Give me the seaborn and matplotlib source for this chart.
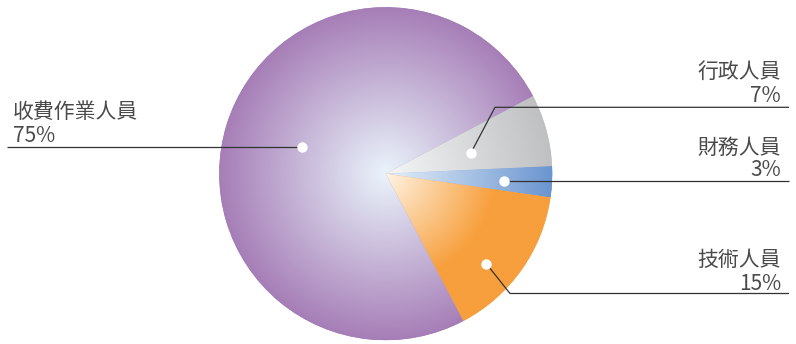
import numpy as np
import matplotlib
matplotlib.use("Agg")
import matplotlib.pyplot as plt
import matplotlib.colors as mcolors
import seaborn as sns

# Staff composition
categories = ["行政人員", "財務人員", "技術人員", "收費作業人員"]
shares = [7, 3, 15, 75]
pct_labels = ["7%", "3%", "15%", "75%"]

edge_colors = ["#bfc0c2", "#6a95cf", "#f79f3c", "#a67eb7"]
center_colors = ["#f4f6f8", "#e6f0fa", "#fff4e4", "#eaf4fb"]
# radius fraction at which each slice reaches its full colour
full_at = [1.0, 1.0, 0.66, 1.0]

sns.set_theme(style="white")
plt.rcParams["font.family"] = ["Noto Sans CJK TC", "DejaVu Sans"]

W, H = 796, 344
fig = plt.figure(figsize=(W / 100, H / 100), dpi=100)
ax = fig.add_axes([0, 0, 1, 1])


def px(x, y):
    """pixel position (origin top-left) -> data coordinates"""
    return x, H - y


cx, cy = px(385.7, 173.7)
R = 166.5

wedges, _ = ax.pie(shares, startangle=27.8, counterclock=False,
                   center=(cx, cy), radius=R, colors=edge_colors,
                   wedgeprops=dict(linewidth=0))

# radial gradient fill for each slice
n = 600
xs = np.linspace(cx - R, cx + R, n)
ys = np.linspace(cy - R, cy + R, n)
XX, YY = np.meshgrid(xs, ys)
rr = np.sqrt((XX - cx) ** 2 + (YY - cy) ** 2) / R
for w, c0, c1, fa in zip(wedges, center_colors, edge_colors, full_at):
    t = np.clip(rr / fa, 0, 1)[..., None]
    a = np.array(mcolors.to_rgb(c0))
    b = np.array(mcolors.to_rgb(c1))
    img = a * (1 - t) + b * t
    im = ax.imshow(img, extent=(cx - R, cx + R, cy - R, cy + R),
                   origin="lower", interpolation="bilinear", zorder=2)
    im.set_clip_path(w)

# marker dots inside slices (radial fraction, angle tweak in degrees)
dot_r = [0.525, 0.71, 0.81, 0.526]
dot_da = [-1.7, -0.9, -6.6, -0.8]
dots = []
for w, fr, da in zip(wedges, dot_r, dot_da):
    ang = np.deg2rad((w.theta1 + w.theta2) / 2 + da)
    dots.append((cx + fr * R * np.cos(ang), cy + fr * R * np.sin(ang)))

line_kw = dict(color="#333333", lw=0.9, zorder=3, solid_capstyle="butt")

# leader lines
gx, gy = dots[0]
ex, ey = px(495, 107.3)
ax.plot([gx, ex, 789], [gy, ey, ey], **line_kw)
bx, by = dots[1]
ax.plot([bx, 789], [by, by], **line_kw)
ox, oy = dots[2]
ex, ey = px(510, 293.5)
ax.plot([ox, ex, 789], [oy, ey, ey], **line_kw)
pxd, pyd = dots[3]
ax.plot([7, pxd], [pyd, pyd], **line_kw)

for x, y in dots:
    ax.plot(x, y, "o", ms=7.5, mfc="white", mec="none", zorder=4)

text_kw = dict(fontsize=15, color="#4a4a4a", va="baseline", zorder=5,
               fontweight="light")

right_text = [(0, 78, 101.5), (1, 154, 175.5), (2, 266, 289.5)]
for i, yn, yp in right_text:
    ax.text(*px(781, yn), categories[i], ha="right", **text_kw)
    ax.text(*px(781, yp), pct_labels[i], ha="right", **text_kw)

ax.text(*px(13, 118), categories[3], ha="left", **text_kw)
ax.text(*px(13, 142), pct_labels[3], ha="left", **text_kw)

ax.set_aspect("equal")
ax.set_xlim(0, W)
ax.set_ylim(0, H)
ax.axis("off")

fig.savefig("out.png", dpi=100)
